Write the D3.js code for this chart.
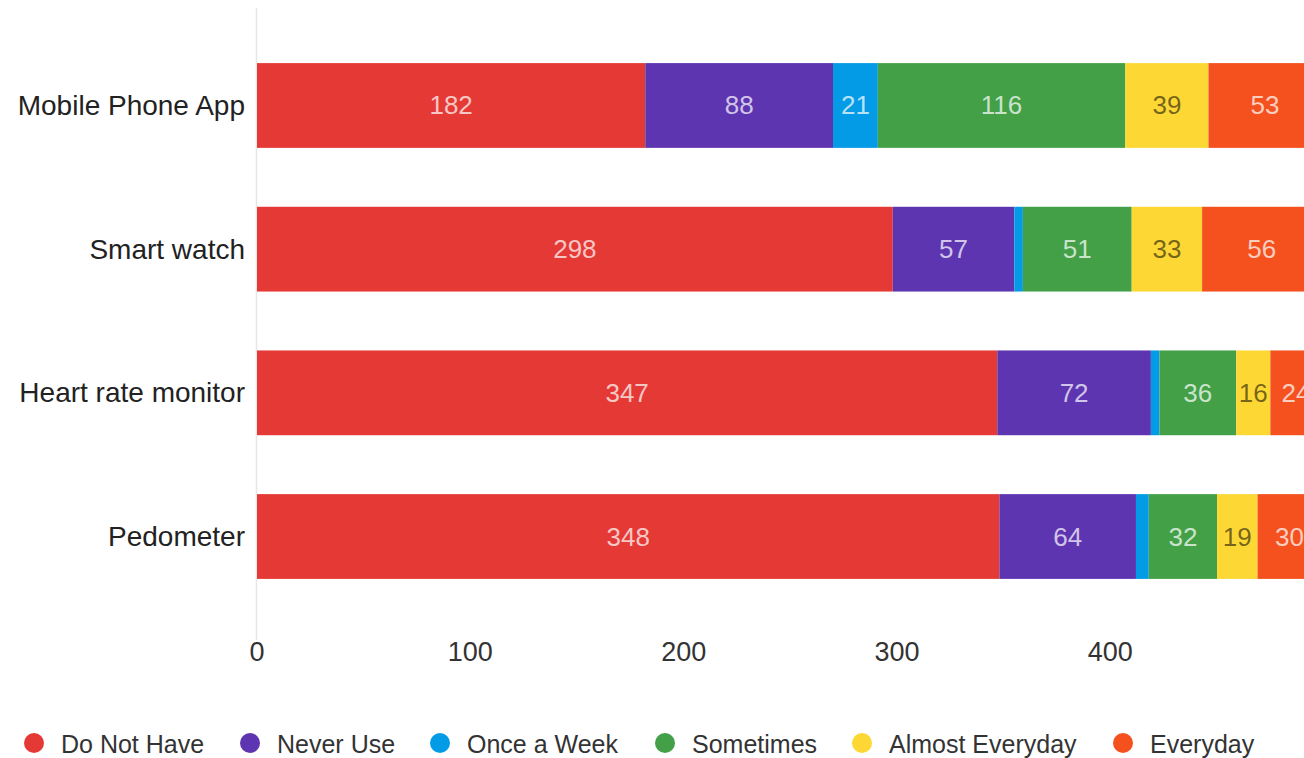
<!DOCTYPE html>
<html>
<head>
<meta charset="utf-8">
<script src="https://cdn.jsdelivr.net/npm/d3@7"></script>
<style>
  body { margin: 0; background: #fff; }
  svg { display: block; font-family: "Liberation Sans", Arial, sans-serif; }
  .seg-label { font-size: 26px; text-anchor: middle; dominant-baseline: central; }
  .cat-label { font-size: 28px; fill: #222; text-anchor: end; dominant-baseline: central; }
  .tick-label { font-size: 27px; fill: #333; text-anchor: middle; }
  .legend-text { font-size: 25px; fill: #333; dominant-baseline: central; }
</style>
</head>
<body>
<svg id="chart" width="1304" height="758"></svg>
<script>
const devices = ["Mobile Phone App", "Smart watch", "Heart rate monitor", "Pedometer"];
const series = ["Do Not Have", "Never Use", "Once a Week", "Sometimes", "Almost Everyday", "Everyday"];
const colors = ["#e53935", "#5e35b1", "#039be5", "#43a047", "#fdd835", "#f4511e"];
const doNotHave = [182, 298, 347, 348];
const neverUse = [88, 57, 72, 64];
const onceAWeek = [21, 4, 4, 6];
const sometimes = [116, 51, 36, 32];
const almostEveryday = [39, 33, 16, 19];
const everyday = [53, 56, 24, 30];
const xTicks = [0, 100, 200, 300, 400];

const values = [doNotHave, neverUse, onceAWeek, sometimes, almostEveryday, everyday];
const rows = devices.map((d, i) => {
  const row = { device: d };
  series.forEach((s, j) => (row[s] = values[j][i]));
  return row;
});

const svg = d3.select("#chart");

const x = d3.scaleLinear().domain([0, 500]).range([257, 1323.7]);
const y = d3
  .scaleBand()
  .domain(devices)
  .range([20, 622])
  .paddingInner(0.41)
  .paddingOuter(0.3);

const stacked = d3.stack().keys(series)(rows);

// baseline at zero
svg
  .append("line")
  .attr("x1", x(0) - 0.5)
  .attr("x2", x(0) - 0.5)
  .attr("y1", 8)
  .attr("y2", 640)
  .attr("stroke", "#e6e6e6")
  .attr("stroke-width", 1.5);

const layers = svg
  .selectAll("g.layer")
  .data(stacked)
  .join("g")
  .attr("class", "layer")
  .attr("fill", (d, i) => colors[i]);

layers
  .selectAll("rect")
  .data((d) => d)
  .join("rect")
  .attr("x", (d) => x(d[0]))
  .attr("y", (d) => y(d.data.device))
  .attr("width", (d) => x(d[1]) - x(d[0]))
  .attr("height", y.bandwidth());

// segment value labels (chart is cut at the right edge like the original)
stacked.forEach((layer, i) => {
  svg
    .append("g")
    .selectAll("text")
    .data(layer.filter((d) => d[1] - d[0] >= 10))
    .join("text")
    .attr("class", "seg-label")
    .attr("x", (d) => (x(d[0]) + x(d[1])) / 2)
    .attr("y", (d) => y(d.data.device) + y.bandwidth() / 2)
    .attr("fill", series[i] === "Almost Everyday" ? "rgba(0,0,0,0.55)" : "rgba(255,255,255,0.72)")
    .text((d) => d[1] - d[0]);
});

// category labels
svg
  .append("g")
  .selectAll("text")
  .data(devices)
  .join("text")
  .attr("class", "cat-label")
  .attr("x", 245)
  .attr("y", (d) => y(d) + y.bandwidth() / 2)
  .text((d) => d);

// x tick labels
svg
  .append("g")
  .selectAll("text")
  .data(xTicks)
  .join("text")
  .attr("class", "tick-label")
  .attr("x", (d) => x(d))
  .attr("y", 661)
  .text((d) => d);

// legend
const legendX = [34, 250, 440, 665, 862, 1123];
const legend = svg
  .append("g")
  .selectAll("g")
  .data(series)
  .join("g")
  .attr("transform", (d, i) => `translate(${legendX[i]},743)`);

legend
  .append("circle")
  .attr("r", 10)
  .attr("fill", (d, i) => colors[i]);

legend
  .append("text")
  .attr("class", "legend-text")
  .attr("x", 27)
  .attr("y", 1)
  .text((d) => d);
</script>
</body>
</html>
